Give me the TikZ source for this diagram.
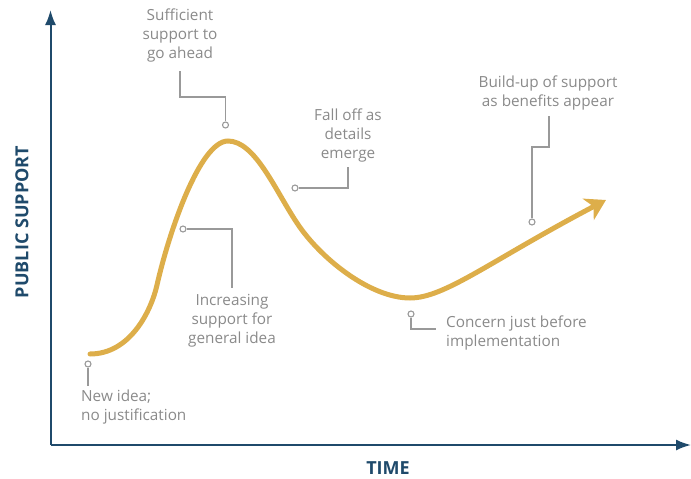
\documentclass[tikz,border=0pt]{standalone}
\usepackage{fontspec}
\setmainfont{Open Sans}
\usetikzlibrary{arrows.meta}
\definecolor{axisblue}{HTML}{1F4A6B}
\definecolor{curvegold}{HTML}{DDAE4A}
\definecolor{labelgray}{HTML}{8A8A8A}
\definecolor{leadgray}{HTML}{999999}
\tikzset{
  axis/.style={draw=axisblue, line width=2pt, -{Latex[length=15pt,width=11pt]}},
  axislabel/.style={text=axisblue, font=\fontsize{18}{20}\selectfont\bfseries, inner sep=0pt},
  curve/.style={draw=curvegold, line width=5pt, line cap=round, -{Stealth[length=20pt,width=24pt,inset=6pt]}},
  lbl/.style={text=labelgray, font=\fontsize{15.3}{19}\selectfont, inner sep=0pt, align=center},
  lead/.style={draw=leadgray, line width=1.2pt},
  dot/.style={circle, draw=leadgray, line width=1.1pt, fill=white, minimum size=6pt, inner sep=0pt},
}
\begin{document}
\begin{tikzpicture}[x=1pt,y=-1pt]
\useasboundingbox (0,0) rectangle (691,479);
% axes
\coordinate (o) at (50.5,445);
\coordinate (ytop) at (50.5,10);
\coordinate (xend) at (691,445);
\draw[axis] (o) -- (ytop);
\draw[axis] (o) -- (xend);
\node[axislabel, rotate=90] (ylab) at (22,222) {PUBLIC SUPPORT};
\node[axislabel] (xlab) at (388,468) {TIME};
% curve
\coordinate (c0) at (90,354);
\coordinate (c1) at (157,285);
\coordinate (c2) at (228,141);
\coordinate (c3) at (297,223);
\coordinate (c4) at (410,298);
\coordinate (c5) at (606,200);
\draw[curve] (c0) .. controls (130,354) and (151,311.4) .. (c1)
  .. controls (169,232) and (200,141) .. (c2)
  .. controls (255,141) and (275,190) .. (c3)
  .. controls (320,258) and (370,298) .. (c4)
  .. controls (445,298) and (490,261) .. (c5);
% annotations
\node[lbl] (t1) at (180,35) {Sufficient\\support to\\go ahead};
\node[dot] (d1) at (225.5,125) {};
\draw[lead] (180,71) -- (180,97) -- (225.5,97) -- (d1);

\node[lbl] (t2) at (348,135) {Fall off as\\details\\emerge};
\node[dot] (d2) at (295,188) {};
\draw[lead] (348,167) -- (348,188) -- (d2);

\node[lbl] (t3) at (548,92.5) {Build-up of support\\as benefits appear};
\node[dot] (d3) at (532,222) {};
\draw[lead] (549,116) -- (549,147) -- (532,147) -- (d3);

\node[lbl] (t4) at (232,321) {Increasing\\support for\\general idea};
\node[dot] (d4) at (183,229) {};
\draw[lead] (d4) -- (232,229) -- (232,288);

\node[lbl, align=left, anchor=west] (t5) at (81,407.5) {New idea;\\no justification};
\node[dot] (d5) at (88,364) {};
\draw[lead] (d5) -- (88,386);

\node[lbl, align=left, anchor=west] (t6) at (446,333) {Concern just before\\implementation};
\node[dot] (d6) at (411,314) {};
\draw[lead] (d6) -- (411,329) -- (436,329);
\end{tikzpicture}
\end{document}
